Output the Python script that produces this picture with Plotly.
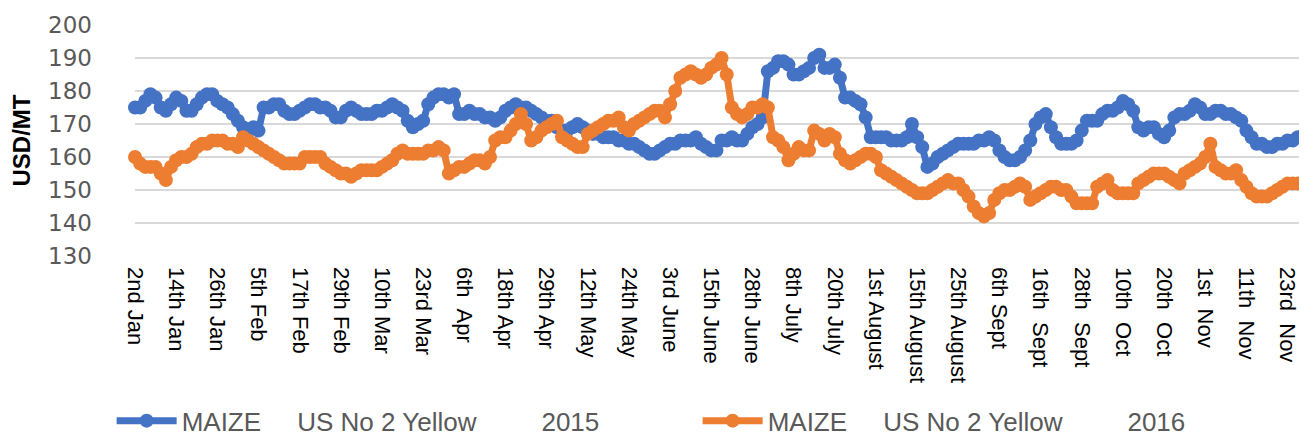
import plotly.graph_objects as go

tick_labels = ["2nd Jan", "14th Jan", "26th Jan", "5th Feb", "17th Feb", "29th Feb", "10th Mar",
               "23rd Mar", "6th  Apr", "18th Apr", "29th Apr", "12th May", "24th May", "3rd June",
               "15th June", "28th June", "8th July", "20th July", "1st August", "15th August",
               "25th August", "6th Sept", "16th  Sept", "28th  Sept", "10th  Oct", "20th  Oct",
               "1st  Nov", "11th  Nov", "23rd  Nov"]

maize_2015 = [175, 175, 177, 179, 178, 175, 174, 176, 178, 177, 174, 174, 176, 178, 179, 179,
              177, 176, 175, 173, 171, 169, 168, 169, 168, 175, 175, 176, 176, 174, 173, 173,
              174, 175, 176, 176, 175, 175, 174, 172, 172, 174, 175, 174, 173, 173, 173, 174,
              174, 175, 176, 175, 174, 171, 169, 170, 171, 176, 178, 179, 179, 178, 179, 173,
              173, 174, 173, 173, 172, 172, 171, 172, 174, 175, 176, 175, 175, 174, 173, 172,
              171, 171, 169, 168, 168, 169, 170, 169, 168, 167, 167, 166, 166, 166, 165, 165,
              164, 164, 163, 162, 161, 161, 162, 163, 164, 164, 165, 165, 165, 166, 164, 163,
              162, 162, 165, 165, 166, 165, 165, 167, 169, 170, 172, 186, 187, 189, 189, 188,
              185, 185, 186, 187, 190, 191, 187, 187, 188, 184, 178, 178, 177, 176, 172, 166,
              166, 166, 166, 165, 165, 165, 166, 170, 166, 163, 157, 158, 160, 161, 162, 163,
              164, 164, 164, 164, 165, 165, 166, 165, 162, 160, 159, 159, 160, 162, 165, 170,
              172, 173, 169, 166, 164, 164, 164, 165, 168, 171, 171, 171, 173, 174, 174, 175,
              177, 176, 174, 169, 168, 169, 169, 167, 166, 168, 172, 173, 173, 174, 176, 175,
              173, 173, 174, 174, 173, 173, 172, 171, 168, 166, 164, 164, 163, 163, 164, 164,
              165, 165, 166, 166]

maize_2016 = [160, 158, 157, 157, 157, 155, 153, 157, 159, 160, 160, 161, 163, 164, 164, 165,
              165, 165, 164, 164, 163, 166, 165, 164, 163, 162, 161, 160, 159, 158, 158, 158,
              158, 160, 160, 160, 160, 158, 157, 156, 155, 155, 154, 155, 156, 156, 156, 156,
              157, 158, 159, 161, 162, 161, 161, 161, 161, 162, 162, 163, 162, 155, 156, 157,
              157, 158, 159, 159, 158, 160, 165, 166, 166, 168, 170, 173, 170, 165, 166, 168,
              169, 170, 171, 166, 165, 164, 163, 163, 167, 168, 169, 170, 171, 171, 172, 169,
              168, 170, 171, 172, 173, 174, 174, 172, 176, 180, 184, 185, 186, 185, 184, 185,
              187, 188, 190, 185, 175, 173, 172, 173, 175, 175, 176, 175, 166, 165, 163, 159,
              161, 163, 162, 162, 168, 167, 165, 167, 166, 161, 159, 158, 159, 160, 161, 161,
              160, 156, 155, 154, 153, 152, 151, 150, 149, 149, 149, 150, 151, 152, 153, 152,
              152, 150, 148, 145, 143, 142, 143, 147, 149, 150, 150, 151, 152, 151, 147, 148,
              149, 150, 151, 151, 150, 150, 148, 146, 146, 146, 146, 151, 152, 153, 150, 149,
              149, 149, 149, 152, 153, 154, 155, 155, 155, 154, 153, 152, 155, 156, 157, 158,
              160, 164, 157, 156, 155, 155, 156, 153, 151, 149, 148, 148, 148, 149, 150, 151,
              152, 152, 152, 152]

NB = "\u00a0"
series_names = ["MAIZE" + NB * 5 + "US No 2 Yellow" + NB * 9 + "2015",
                "MAIZE" + NB * 5 + "US No 2 Yellow" + NB * 9 + "2016"]
colors = ["#4472C4", "#ED7D31"]

n = len(maize_2015)
xs = list(range(n))
tick_every = 8
tickvals = xs[::tick_every][:len(tick_labels)]

fig = go.Figure()
for name, vals, col in zip(series_names, [maize_2015, maize_2016], colors):
    fig.add_trace(go.Scatter(
        x=xs[:len(vals)], y=vals, name=name, mode="lines+markers",
        line=dict(color=col, width=7),
        marker=dict(color=col, size=14, line=dict(width=0)),
        cliponaxis=False,
    ))

fig.update_layout(
    width=1307, height=437,
    margin=dict(l=127, r=12, t=17, b=189, autoexpand=False),
    plot_bgcolor="white", paper_bgcolor="white",
    showlegend=True,
    legend=dict(orientation="h", x=-0.02, xanchor="left", y=-0.815, yanchor="bottom",
                font=dict(family="Liberation Sans", size=26, color="#595959"),
                itemwidth=60, entrywidth=511, entrywidthmode="pixels"),
)
fig.update_xaxes(
    range=[0, n - 1], tickmode="array", tickvals=tickvals, ticktext=tick_labels,
    tickangle=90, showgrid=False, zeroline=False, showline=False, ticks="",
    ticklabelstandoff=10, automargin=False,
    tickfont=dict(family="Liberation Sans", size=22, color="black"),
)
fig.update_yaxes(
    range=[130, 200], tick0=130, dtick=10, showgrid=True, gridcolor="#D9D9D9", gridwidth=2,
    zeroline=False, showline=False, ticks="", ticklabelstandoff=42, automargin=False,
    tickfont=dict(family="DejaVu Sans", size=23, color="#595959"),
    title=dict(text="<b>USD/MT</b>", standoff=10,
               font=dict(family="Liberation Sans", size=24, color="black")),
)

fig.write_html("out.html")
